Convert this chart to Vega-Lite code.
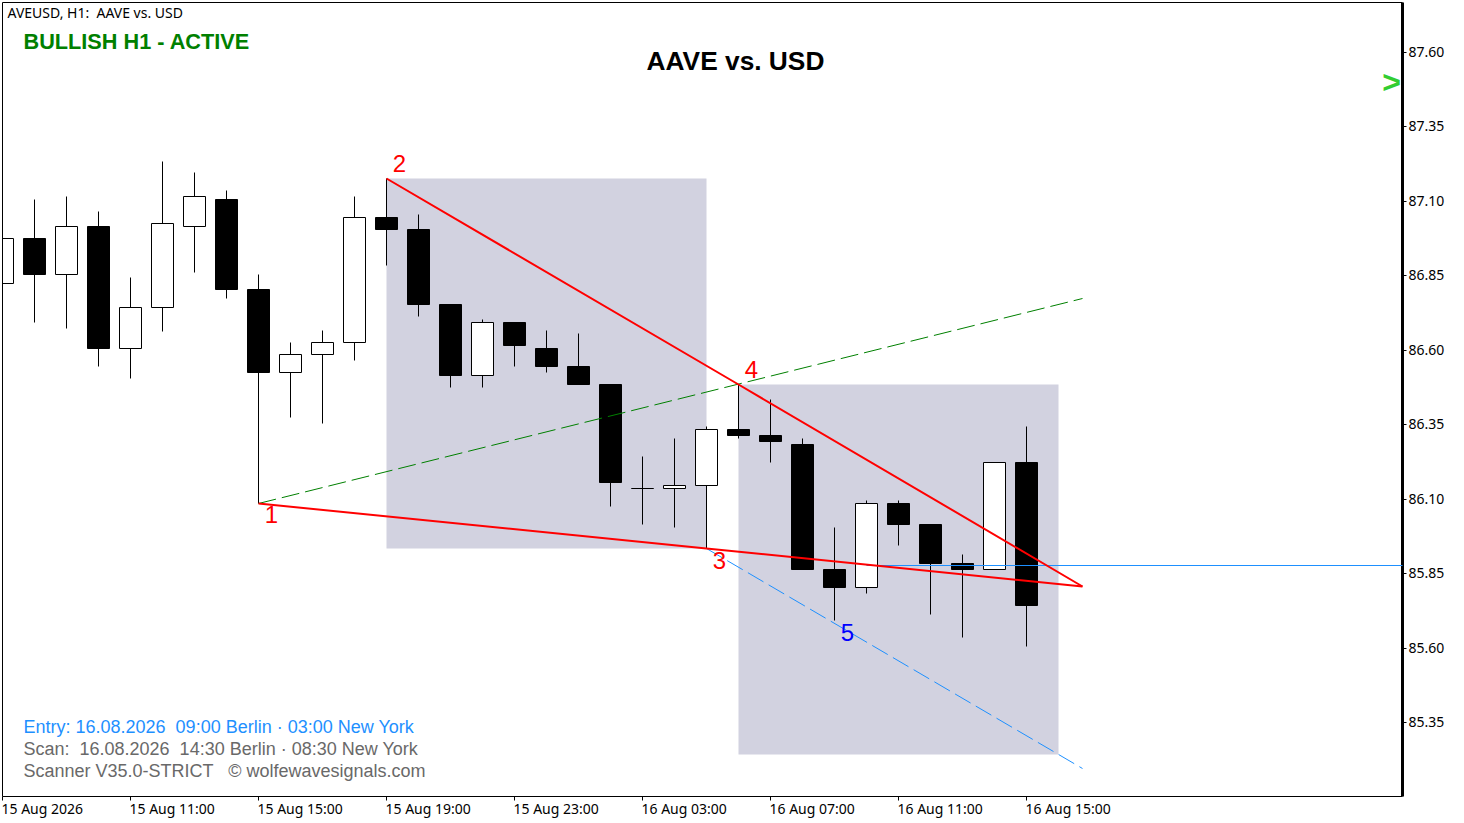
{
  "$schema": "https://vega.github.io/schema/vega-lite/v6.json",
  "width": 1400,
  "height": 794,
  "autosize": "none",
  "padding": {"left": 2.5, "top": 2.5, "right": 61.5, "bottom": 26.5},
  "background": "#ffffff",
  "config": {
    "view": {"stroke": null},
    "axis": {"grid": false}
  },
  "resolve": {"scale": {"color": "independent"}},
  "datasets": {
    "candles": [
      {"t": "2026-08-15T07:00:00Z", "dir": "up", "open": 86.824, "high": 86.975, "low": 86.824, "close": 86.975},
      {"t": "2026-08-15T08:00:00Z", "dir": "down", "open": 86.975, "high": 87.106, "low": 86.693, "close": 86.855},
      {"t": "2026-08-15T09:00:00Z", "dir": "up", "open": 86.855, "high": 87.116, "low": 86.673, "close": 87.016},
      {"t": "2026-08-15T10:00:00Z", "dir": "down", "open": 87.016, "high": 87.066, "low": 86.546, "close": 86.606},
      {"t": "2026-08-15T11:00:00Z", "dir": "up", "open": 86.606, "high": 86.844, "low": 86.505, "close": 86.744},
      {"t": "2026-08-15T12:00:00Z", "dir": "up", "open": 86.744, "high": 87.234, "low": 86.663, "close": 87.026},
      {"t": "2026-08-15T13:00:00Z", "dir": "up", "open": 87.016, "high": 87.197, "low": 86.861, "close": 87.116},
      {"t": "2026-08-15T14:00:00Z", "dir": "down", "open": 87.106, "high": 87.137, "low": 86.774, "close": 86.804},
      {"t": "2026-08-15T15:00:00Z", "dir": "down", "open": 86.804, "high": 86.855, "low": 86.086, "close": 86.525},
      {"t": "2026-08-15T16:00:00Z", "dir": "up", "open": 86.525, "high": 86.626, "low": 86.374, "close": 86.586},
      {"t": "2026-08-15T17:00:00Z", "dir": "up", "open": 86.586, "high": 86.666, "low": 86.354, "close": 86.626},
      {"t": "2026-08-15T18:00:00Z", "dir": "up", "open": 86.626, "high": 87.116, "low": 86.566, "close": 87.046},
      {"t": "2026-08-15T19:00:00Z", "dir": "down", "open": 87.046, "high": 87.177, "low": 86.885, "close": 87.006},
      {"t": "2026-08-15T20:00:00Z", "dir": "down", "open": 87.006, "high": 87.056, "low": 86.714, "close": 86.754},
      {"t": "2026-08-15T21:00:00Z", "dir": "down", "open": 86.754, "high": 86.754, "low": 86.475, "close": 86.515},
      {"t": "2026-08-15T22:00:00Z", "dir": "up", "open": 86.515, "high": 86.703, "low": 86.475, "close": 86.693},
      {"t": "2026-08-15T23:00:00Z", "dir": "down", "open": 86.693, "high": 86.693, "low": 86.546, "close": 86.616},
      {"t": "2026-08-16T00:00:00Z", "dir": "down", "open": 86.606, "high": 86.666, "low": 86.525, "close": 86.546},
      {"t": "2026-08-16T01:00:00Z", "dir": "down", "open": 86.546, "high": 86.656, "low": 86.485, "close": 86.485},
      {"t": "2026-08-16T02:00:00Z", "dir": "down", "open": 86.485, "high": 86.485, "low": 86.076, "close": 86.156},
      {"t": "2026-08-16T03:00:00Z", "dir": "up", "open": 86.136, "high": 86.243, "low": 86.015, "close": 86.136},
      {"t": "2026-08-16T04:00:00Z", "dir": "up", "open": 86.136, "high": 86.304, "low": 86.005, "close": 86.146},
      {"t": "2026-08-16T05:00:00Z", "dir": "up", "open": 86.146, "high": 86.344, "low": 85.934, "close": 86.334},
      {"t": "2026-08-16T06:00:00Z", "dir": "down", "open": 86.334, "high": 86.485, "low": 86.304, "close": 86.314},
      {"t": "2026-08-16T07:00:00Z", "dir": "down", "open": 86.314, "high": 86.435, "low": 86.223, "close": 86.294},
      {"t": "2026-08-16T08:00:00Z", "dir": "down", "open": 86.284, "high": 86.304, "low": 85.864, "close": 85.864},
      {"t": "2026-08-16T09:00:00Z", "dir": "down", "open": 85.864, "high": 86.005, "low": 85.693, "close": 85.803},
      {"t": "2026-08-16T10:00:00Z", "dir": "up", "open": 85.803, "high": 86.096, "low": 85.783, "close": 86.086},
      {"t": "2026-08-16T11:00:00Z", "dir": "down", "open": 86.086, "high": 86.096, "low": 85.944, "close": 86.015},
      {"t": "2026-08-16T12:00:00Z", "dir": "down", "open": 86.015, "high": 86.015, "low": 85.713, "close": 85.884},
      {"t": "2026-08-16T13:00:00Z", "dir": "down", "open": 85.884, "high": 85.914, "low": 85.636, "close": 85.864},
      {"t": "2026-08-16T14:00:00Z", "dir": "up", "open": 85.864, "high": 86.223, "low": 85.864, "close": 86.223},
      {"t": "2026-08-16T15:00:00Z", "dir": "down", "open": 86.223, "high": 86.344, "low": 85.605, "close": 85.743}
    ],
    "zones": [
      {"start": "2026-08-15T19:00:00Z", "end": "2026-08-16T05:00:00Z", "top": 87.177, "bottom": 85.934},
      {"start": "2026-08-16T06:00:00Z", "end": "2026-08-16T16:00:00Z", "top": 86.485, "bottom": 85.243}
    ],
    "wedge": [
      {"t": "2026-08-15T15:00:00Z", "price": 86.086, "side": "1-3"},
      {"t": "2026-08-16T05:00:00Z", "price": 85.934, "side": "1-3"},
      {"t": "2026-08-16T16:45:00Z", "price": 85.807, "side": "1-3"},
      {"t": "2026-08-15T19:00:00Z", "price": 87.177, "side": "2-4"},
      {"t": "2026-08-16T06:00:00Z", "price": 86.485, "side": "2-4"},
      {"t": "2026-08-16T16:45:00Z", "price": 85.807, "side": "2-4"}
    ],
    "target": [
      {"t": "2026-08-15T15:00:00Z", "price": 86.086},
      {"t": "2026-08-16T16:45:00Z", "price": 86.774}
    ],
    "sweet": [
      {"t": "2026-08-16T05:00:00Z", "price": 85.934},
      {"t": "2026-08-16T16:45:00Z", "price": 85.196}
    ],
    "entry": [
      {"t": "2026-08-16T10:00:00Z", "price": 85.877},
      {"t": "2026-08-17T02:45:00Z", "price": 85.877}
    ],
    "pivots": [
      {"t": "2026-08-15T15:24:22Z", "price": 86.0455, "label": "1", "kind": "wave"},
      {"t": "2026-08-15T19:24:22Z", "price": 87.2245, "label": "2", "kind": "wave"},
      {"t": "2026-08-16T05:24:22Z", "price": 85.8915, "label": "3", "kind": "wave"},
      {"t": "2026-08-16T06:24:22Z", "price": 86.5325, "label": "4", "kind": "wave"},
      {"t": "2026-08-16T09:24:22Z", "price": 85.6495, "label": "5", "kind": "entry"}
    ],
    "info": [
      {"t": "2026-08-15T07:39:22Z", "price": 85.3335, "label": "Entry: 16.08.2026 \u00a009:00 Berlin · 03:00 New York", "kind": "entry"},
      {"t": "2026-08-15T07:39:22Z", "price": 85.2595, "label": "Scan: \u00a016.08.2026 \u00a014:30 Berlin · 08:30 New York", "kind": "note"},
      {"t": "2026-08-15T07:39:22Z", "price": 85.1865, "label": "Scanner V35.0-STRICT \u00a0 © wolfewavesignals.com", "kind": "note"}
    ],
    "frame": [
      {"t": "2026-08-15T07:00:00Z", "price": 87.7679}
    ]
  },
  "layer": [
    {
      "data": {"name": "zones"},
      "mark": {"type": "rect", "color": "#d2d2e0"},
      "encoding": {
        "x": {
          "field": "start",
          "type": "temporal",
          "title": null,
          "scale": {"type": "utc", "domain": ["2026-08-15T07:00:00Z", "2026-08-17T02:45:00Z"], "nice": false, "padding": 0, "round": true},
          "axis": {
            "translate": 0,
            "values": ["2026-08-15T07:00:00Z", "2026-08-15T11:00:00Z", "2026-08-15T15:00:00Z", "2026-08-15T19:00:00Z", "2026-08-15T23:00:00Z", "2026-08-16T03:00:00Z", "2026-08-16T07:00:00Z", "2026-08-16T11:00:00Z", "2026-08-16T15:00:00Z"],
            "labelExpr": "utcFormat(datum.value, '%d %H') == '15 07' ? '15 Aug 2026' : utcFormat(datum.value, '%d %b %H:%M')",
            "labelAlign": "left",
            "labelBaseline": "top",
            "labelFont": "Noto Sans",
            "labelFontSize": 14,
            "labelColor": "#000000",
            "labelPadding": 2,
            "labelOffset": -1,
            "labelOverlap": false,
            "labelBound": false,
            "labelFlush": false,
            "tickColor": "#000000",
            "tickSize": 4,
            "domainColor": "#000000"
          }
        },
        "x2": {"field": "end"},
        "y": {
          "field": "top",
          "type": "quantitative",
          "title": null,
          "scale": {"domain": [85.1016, 87.7679], "nice": false, "zero": false, "round": true},
          "axis": {
            "translate": 0,
            "orient": "right",
            "values": [85.35, 85.6, 85.85, 86.1, 86.35, 86.6, 86.85, 87.1, 87.35, 87.6],
            "format": ".2f",
            "labelFont": "Noto Sans",
            "labelFontSize": 14,
            "labelColor": "#000000",
            "labelPadding": 2,
            "labelOffset": 0,
            "labelOverlap": false,
            "labelBound": false,
            "labelFlush": false,
            "tickColor": "#000000",
            "tickSize": 4,
            "domainColor": "#000000",
            "domainWidth": 3
          }
        },
        "y2": {"field": "bottom"}
      }
    },
    {
      "data": {"name": "candles"},
      "mark": {"type": "rule", "color": "#000000", "strokeWidth": 1, "clip": true},
      "encoding": {
        "x": {"field": "t", "type": "temporal", "title": null},
        "y": {"field": "low", "type": "quantitative", "title": null},
        "y2": {"field": "high"}
      }
    },
    {
      "data": {"name": "candles"},
      "mark": {"type": "bar", "size": 22, "stroke": "#000000", "strokeWidth": 1, "clip": true},
      "encoding": {
        "x": {"field": "t", "type": "temporal", "title": null},
        "y": {"field": "open", "type": "quantitative", "title": null},
        "y2": {"field": "close"},
        "color": {
          "field": "dir",
          "type": "nominal",
          "legend": null,
          "scale": {"domain": ["up", "down"], "range": ["#ffffff", "#000000"]}
        }
      }
    },
    {
      "data": {"name": "target"},
      "mark": {"type": "line", "color": "#008000", "strokeWidth": 1, "strokeDash": [18, 6]},
      "encoding": {
        "x": {"field": "t", "type": "temporal", "title": null},
        "y": {"field": "price", "type": "quantitative", "title": null}
      }
    },
    {
      "data": {"name": "sweet"},
      "mark": {"type": "line", "color": "#1e90ff", "strokeWidth": 1, "strokeDash": [18, 6]},
      "encoding": {
        "x": {"field": "t", "type": "temporal", "title": null},
        "y": {"field": "price", "type": "quantitative", "title": null}
      }
    },
    {
      "data": {"name": "entry"},
      "mark": {"type": "line", "color": "#1e90ff", "strokeWidth": 1},
      "encoding": {
        "x": {"field": "t", "type": "temporal", "title": null},
        "y": {"field": "price", "type": "quantitative", "title": null}
      }
    },
    {
      "data": {"name": "wedge"},
      "mark": {"type": "line", "color": "#ff0000", "strokeWidth": 2},
      "encoding": {
        "x": {"field": "t", "type": "temporal", "title": null},
        "y": {"field": "price", "type": "quantitative", "title": null},
        "detail": {"field": "side"}
      }
    },
    {
      "data": {"name": "frame"},
      "mark": {"type": "rule", "color": "#000000", "strokeWidth": 1},
      "encoding": {
        "x": {"field": "t", "type": "temporal", "title": null}
      }
    },
    {
      "data": {"name": "frame"},
      "mark": {"type": "rule", "color": "#000000", "strokeWidth": 1},
      "encoding": {
        "y": {"field": "price", "type": "quantitative", "title": null}
      }
    },
    {
      "data": {"name": "pivots"},
      "mark": {"type": "text", "font": "Liberation Sans", "fontSize": 24, "align": "center", "baseline": "middle"},
      "encoding": {
        "x": {"field": "t", "type": "temporal", "title": null},
        "y": {"field": "price", "type": "quantitative", "title": null},
        "text": {"field": "label"},
        "color": {
          "field": "kind",
          "type": "nominal",
          "legend": null,
          "scale": {"domain": ["wave", "entry"], "range": ["#ff0000", "#0000ff"]}
        }
      }
    },
    {
      "data": {"name": "info"},
      "mark": {"type": "text", "font": "Liberation Sans", "fontSize": 18, "align": "left", "baseline": "middle"},
      "encoding": {
        "x": {"field": "t", "type": "temporal", "title": null},
        "y": {"field": "price", "type": "quantitative", "title": null},
        "text": {"field": "label"},
        "color": {
          "field": "kind",
          "type": "nominal",
          "legend": null,
          "scale": {"domain": ["entry", "note"], "range": ["#1e90ff", "#696969"]}
        }
      }
    },
    {
      "data": {"values": [{"t": "2026-08-15T07:09:22Z", "price": 87.7315, "label": "AVEUSD, H1: \u00a0AAVE vs. USD"}]},
      "mark": {"type": "text", "font": "Noto Sans", "fontSize": 14, "align": "left", "baseline": "middle", "color": "#000000"},
      "encoding": {
        "x": {"field": "t", "type": "temporal", "title": null},
        "y": {"field": "price", "type": "quantitative", "title": null},
        "text": {"field": "label"}
      }
    },
    {
      "data": {"values": [{"t": "2026-08-15T07:39:22Z", "price": 87.6375, "label": "BULLISH H1 - ACTIVE"}]},
      "mark": {"type": "text", "font": "Liberation Sans", "fontWeight": "bold", "fontSize": 21.7, "align": "left", "baseline": "middle", "color": "#008000"},
      "encoding": {
        "x": {"field": "t", "type": "temporal", "title": null},
        "y": {"field": "price", "type": "quantitative", "title": null},
        "text": {"field": "label"}
      }
    },
    {
      "data": {"values": [{"t": "2026-08-16T05:55:18Z", "price": 87.5705, "label": "AAVE vs. USD"}]},
      "mark": {"type": "text", "font": "Liberation Sans", "fontWeight": "bold", "fontSize": 26.3, "align": "center", "baseline": "middle", "color": "#000000"},
      "encoding": {
        "x": {"field": "t", "type": "temporal", "title": null},
        "y": {"field": "price", "type": "quantitative", "title": null},
        "text": {"field": "label"}
      }
    },
    {
      "data": {"values": [{"t": "2026-08-17T02:24:22Z", "price": 87.499, "label": ">"}]},
      "mark": {"type": "text", "font": "Liberation Sans", "fontWeight": "bold", "fontSize": 32, "align": "center", "baseline": "middle", "color": "#32cd32"},
      "encoding": {
        "x": {"field": "t", "type": "temporal", "title": null},
        "y": {"field": "price", "type": "quantitative", "title": null},
        "text": {"field": "label"}
      }
    }
  ]
}
